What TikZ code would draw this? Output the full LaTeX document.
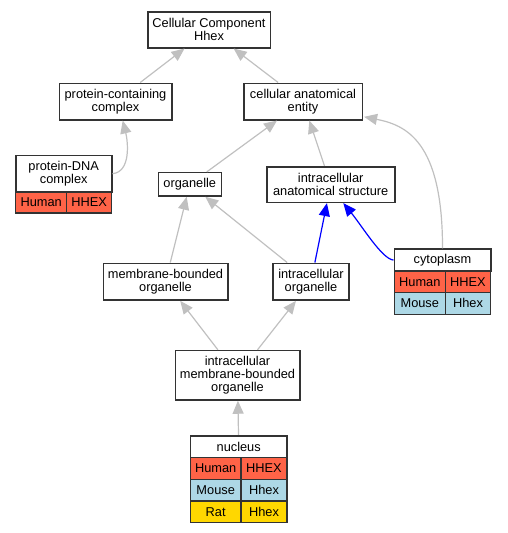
\documentclass[tikz,border=0pt]{standalone}
\usepackage{fontspec}
\setmainfont{Liberation Sans}
\usetikzlibrary{arrows.meta,calc}
\definecolor{humanc}{HTML}{FF6347}
\definecolor{mousec}{HTML}{ADD8E6}
\definecolor{ratc}{HTML}{FFD700}
\definecolor{edgegray}{HTML}{C0C0C0}
\definecolor{boxline}{HTML}{333333}
\begin{document}
\begin{tikzpicture}[x=1pt,y=-1pt,
  every node/.style={font=\fontsize{12.8pt}{13pt}\selectfont, inner sep=0pt, align=center},
  box/.style={draw=boxline, line width=1.6pt, fill=white},
  cell/.style={draw=boxline, line width=1.4pt, text height=9.2pt, text depth=0.6pt},
  human/.style={cell, fill=humanc},
  mouse/.style={cell, fill=mousec},
  rat/.style={cell, fill=ratc},
  isa/.style={draw=edgegray, line width=1.2pt, -{Triangle[length=13pt,width=11pt]}},
  partof/.style={draw=blue, line width=1.2pt, -{Triangle[length=13pt,width=11pt]}}]
\useasboundingbox (0,0) rectangle (507,533);
% nodes
\node[box, minimum width=122.6pt, minimum height=36pt] (cc) at (209,29.7) {Cellular Component\\Hhex};
\node[box, minimum width=112.4pt, minimum height=36.4pt] (pcc) at (115.5,101.5) {protein-containing\\complex};
\node[box, minimum width=118.6pt, minimum height=36.4pt] (cae) at (303,101.5) {cellular anatomical\\entity};
\node[box, minimum width=96pt, minimum height=36.7pt] (pdna) at (63.7,173.7) {protein-DNA\\complex};
\node[human, minimum width=51pt, minimum height=21pt] (pdnah) at (41.2,202.5) {Human};
\node[human, minimum width=45pt, minimum height=21pt] (pdnag) at (89.2,202.5) {HHEX};
\node[box, minimum width=63pt, minimum height=23.3pt] (org) at (189.8,184.3) {organelle};
\node[box, minimum width=128pt, minimum height=35.6pt] (ias) at (330.7,184.5) {intracellular\\anatomical structure};
\node[box, minimum width=124.4pt, minimum height=36.7pt] (mbo) at (165.5,281.7) {membrane-bounded\\organelle};
\node[box, minimum width=76pt, minimum height=36.7pt] (io) at (311,281.7) {intracellular\\organelle};
\node[box, minimum width=96.4pt, minimum height=21.8pt] (cyto) at (442.5,260.1) {cytoplasm};
\node[human, minimum width=51pt, minimum height=21.7pt] (cytoh) at (419.8,281.9) {Human};
\node[human, minimum width=45.4pt, minimum height=21.7pt] (cytohg) at (468,281.9) {HHEX};
\node[mouse, minimum width=51pt, minimum height=21.7pt] (cytom) at (419.8,303.5) {Mouse};
\node[mouse, minimum width=45.4pt, minimum height=21.7pt] (cytomg) at (468,303.5) {Hhex};
\node[box, minimum width=124.4pt, minimum height=49.3pt] (imbo) at (237.5,375.3) {intracellular\\membrane-bounded\\organelle};
\node[box, minimum width=96.7pt, minimum height=22pt] (nuc) at (238.7,446.7) {nucleus};
\node[human, minimum width=50.7pt, minimum height=21.7pt] (nuch) at (215.7,468.5) {Human};
\node[human, minimum width=46pt, minimum height=21.7pt] (nuchg) at (264,468.5) {HHEX};
\node[mouse, minimum width=50.7pt, minimum height=21.7pt] (nucm) at (215.7,490.2) {Mouse};
\node[mouse, minimum width=46pt, minimum height=21.7pt] (nucmg) at (264,490.2) {Hhex};
\node[rat, minimum width=50.7pt, minimum height=21.7pt] (nucr) at (215.7,511.8) {Rat};
\node[rat, minimum width=46pt, minimum height=21.7pt] (nucrg) at (264,511.8) {Hhex};
% edges
\draw[isa] (pcc) -- (cc);
\draw[isa] (cae) -- (cc);
\draw[isa] (pdna.east) .. controls (131,172) and (128,142) .. ($(pcc.south)+(7.2,0)$);
\draw[isa] (org) -- (cae);
\draw[isa] (ias) -- (cae);
\draw[isa] (cyto.north) .. controls (442.7,140) and (405,125) .. ($(cae.south east)+(1,-3.7)$);
\draw[isa] (mbo) -- (org);
\draw[isa] (io) -- (org);
\draw[partof] (io) -- (ias);
\draw[partof] (cyto.west) .. controls (382,259) and (362,226) .. ($(ias.south)+(12.6,0)$);
\draw[isa] (imbo) -- (mbo);
\draw[isa] (imbo) -- (io);
\draw[isa] (nuc) -- (imbo);
\end{tikzpicture}
\end{document}
